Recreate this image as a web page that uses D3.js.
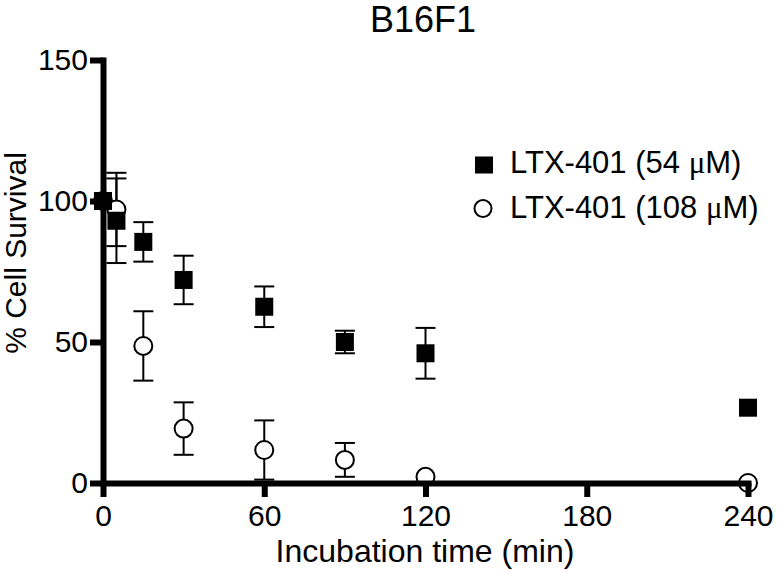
<!DOCTYPE html>
<html>
<head>
<meta charset="utf-8">
<script src="https://cdn.jsdelivr.net/npm/d3@7"></script>
<style>
  html, body { margin: 0; padding: 0; background: #fff; }
  svg { display: block; font-family: "Liberation Sans", Arial, sans-serif; }
</style>
</head>
<body>
<svg id="chart" width="777" height="574"></svg>
<script>
// ---- Data ----
const times = [0, 5, 15, 30, 60, 90, 120, 240];
const low_mean = [100, 93, 85.5, 72, 62.5, 50, 46, 26.7];   // LTX-401 (54 µM)
const low_err  = [0, 15, 7, 8.6, 7.2, 4, 9, 0];
const high_mean = [100, 97, 48.6, 19.3, 11.7, 8.2, 2.2, 0]; // LTX-401 (108 µM)
const high_err  = [0, 13, 12.3, 9.3, 10.5, 6, 0, 0];
const xTicks = [0, 60, 120, 180, 240];
const yTicks = [0, 50, 100, 150];
const seriesNames = ["LTX-401 (54 ", "LTX-401 (108 "];

const svg = d3.select("#chart");
const x = d3.scaleLinear().domain([0, 240]).range([103, 748]);
const y = d3.scaleLinear().domain([0, 150]).range([483, 60]);

// Title
svg.append("text").attr("x", 423).attr("y", 32).attr("text-anchor", "middle")
  .attr("font-size", 36).text("B16F1");

// Axis titles
svg.append("text").attr("x", 425).attr("y", 562).attr("text-anchor", "middle")
  .attr("font-size", 32).text("Incubation time (min)");
svg.append("text").attr("transform", "translate(26,253) rotate(-90)")
  .attr("text-anchor", "middle").attr("font-size", 30).text("% Cell Survival");

const mk = (means, errs) => times.map((t, i) => ({t, m: means[i], e: errs[i]}));
const high = mk(high_mean, high_err);
const low = mk(low_mean, low_err);

function errorBars(data) {
  const g = svg.append("g").attr("stroke", "#000").attr("stroke-width", 2).attr("fill", "none");
  const d2 = data.filter(d => d.e > 0);
  g.selectAll("line.v").data(d2).join("line")
    .attr("x1", d => x(d.t)).attr("x2", d => x(d.t))
    .attr("y1", d => y(d.m + d.e)).attr("y2", d => y(d.m - d.e));
  g.selectAll("line.t").data(d2).join("line")
    .attr("x1", d => x(d.t) - 10).attr("x2", d => x(d.t) + 10)
    .attr("y1", d => y(d.m + d.e)).attr("y2", d => y(d.m + d.e));
  g.selectAll("line.b").data(d2).join("line")
    .attr("x1", d => x(d.t) - 10).attr("x2", d => x(d.t) + 10)
    .attr("y1", d => y(d.m - d.e)).attr("y2", d => y(d.m - d.e));
}
errorBars(high);
errorBars(low);

// Circles (108 µM)
svg.append("g").selectAll("circle").data(high).join("circle")
  .attr("cx", d => x(d.t)).attr("cy", d => y(d.m)).attr("r", 9)
  .attr("fill", "#fff").attr("stroke", "#000").attr("stroke-width", 2);

// Squares (54 µM)
const S = 18;
svg.append("g").selectAll("rect").data(low).join("rect")
  .attr("x", d => x(d.t) - S / 2).attr("y", d => y(d.m) - S / 2)
  .attr("width", S).attr("height", S).attr("fill", "#000");

// Axes
const yAxis = d3.axisLeft(y).tickValues(yTicks).tickSize(13).tickSizeOuter(0).tickPadding(2);
const xAxis = d3.axisBottom(x).tickValues(xTicks).tickSize(14).tickSizeOuter(0).tickPadding(8);

const gy = svg.append("g").attr("transform", "translate(103,0)").call(yAxis);
const gx = svg.append("g").attr("transform", "translate(0,483)").call(xAxis);
[gy, gx].forEach(g => {
  g.select(".domain").attr("stroke", "#000").attr("stroke-width", 6).attr("stroke-linecap", "square");
  g.selectAll(".tick line").attr("stroke", "#000").attr("stroke-width", 6);
  g.selectAll(".tick text").attr("font-size", 30).attr("fill", "#000")
    .attr("font-family", "'Liberation Sans', Arial, sans-serif");
});

// Legend
const lg = svg.append("g");
lg.append("rect").attr("x", 484 - 9).attr("y", 165 - 8.5).attr("width", 18).attr("height", 17).attr("fill", "#000");
lg.append("circle").attr("cx", 483).attr("cy", 208.5).attr("r", 8.5)
  .attr("fill", "#fff").attr("stroke", "#000").attr("stroke-width", 2);
[[173, seriesNames[0]], [217.5, seriesNames[1]]].forEach(([yy, name]) => {
  const t = lg.append("text").attr("x", 510).attr("y", yy).attr("font-size", 31);
  t.append("tspan").text(name);
  t.append("tspan").attr("font-family", "'Liberation Serif', 'DejaVu Serif', serif").text("\u03BC");
  t.append("tspan").text("M)");
});
</script>
</body>
</html>
